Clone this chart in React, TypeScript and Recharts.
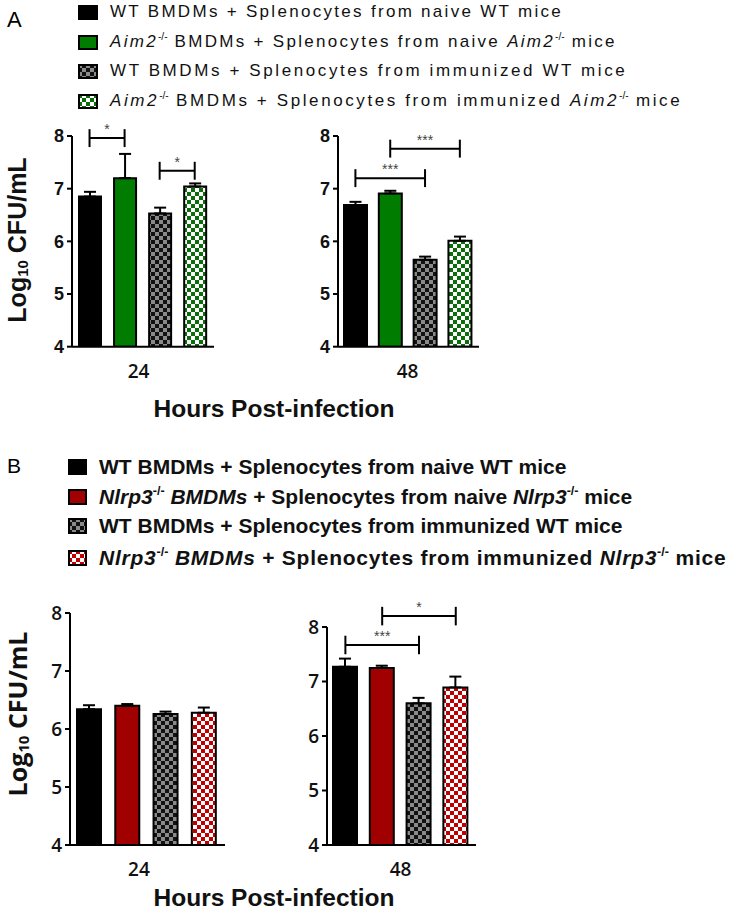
import React from 'react';
import { BarChart, Bar, XAxis, YAxis, Cell, ErrorBar, ReferenceLine, ReferenceDot } from 'recharts';

// bar slots inside every panel, left to right
const positions = [1, 2, 3, 4];
const yTicks = [4, 5, 6, 7, 8];
const hourLabels = ['24', '48'];

const fillsA = ['#000000', '#007d00', 'url(#chkGray)', 'url(#chkGreen)'];
const fillsB = ['#000000', '#a00000', 'url(#chkGray)', 'url(#chkRed)'];

// Panel A (Aim2)
const a24 = [6.85, 7.2, 6.53, 7.04];
const a24Err = [0.09, 0.46, 0.11, 0.06];
const a48 = [6.69, 6.91, 5.65, 6.01];
const a48Err = [0.06, 0.05, 0.06, 0.08];

// Panel B (Nlrp3)
const b24 = [6.34, 6.4, 6.26, 6.28];
const b24Err = [0.07, 0.03, 0.04, 0.09];
const b48 = [7.27, 7.25, 6.6, 6.89];
const b48Err = [0.15, 0.04, 0.1, 0.2];

// significance brackets: from bar, to bar, height, stars
const a24Sig = [
    { from: 1, to: 2, y: 7.96, stars: '*' },
    { from: 3, to: 4, y: 7.34, stars: '*' },
];
const a48Sig = [
    { from: 1, to: 3, y: 7.2, stars: '***' },
    { from: 2, to: 4, y: 7.76, stars: '***' },
];
const b24Sig: { from: number; to: number; y: number; stars: string }[] = [];
const b48Sig = [
    { from: 1, to: 3, y: 7.67, stars: '***' },
    { from: 2, to: 4, y: 8.2, stars: '*' },
];

const makeRows = (vals: number[], errs: number[]) =>
    positions.map((p, i) => ({ pos: p, value: vals[i], err: [0, errs[i]] }));

const Patterns = () => (
    <svg width={0} height={0} style={{ position: 'absolute' }}>
        <defs>
            <pattern id="chkGray" width={8} height={8} patternUnits="userSpaceOnUse">
                <rect width={8} height={8} fill="#111" />
                <rect width={4} height={4} fill="#8a8a8a" />
                <rect x={4} y={4} width={4} height={4} fill="#8a8a8a" />
            </pattern>
            <pattern id="chkGreen" width={8} height={8} patternUnits="userSpaceOnUse">
                <rect width={8} height={8} fill="#ffffff" />
                <rect width={4} height={4} fill="#0a6e0a" />
                <rect x={4} y={4} width={4} height={4} fill="#0a6e0a" />
            </pattern>
            <pattern id="chkRed" width={8} height={8} patternUnits="userSpaceOnUse">
                <rect width={8} height={8} fill="#ffffff" />
                <rect width={4} height={4} fill="#c00000" />
                <rect x={4} y={4} width={4} height={4} fill="#c00000" />
            </pattern>
        </defs>
    </svg>
);

type PanelProps = {
    left: number;
    top: number;
    plotW: number;
    plotH: number;
    vals: number[];
    errs: number[];
    fills: string[];
    hour: string;
    tickPos: number;
    sig: { from: number; to: number; y: number; stars: string }[];
    barSize: number;
    tickFont: React.CSSProperties;
};

const Panel = ({ left, top, plotW, plotH, vals, errs, fills, hour, tickPos, sig, barSize, tickFont }: PanelProps) => {
    const yAxisW = 45;
    const mTop = 40;
    const mRight = 10;
    const xAxisH = 40;
    const data = makeRows(vals, errs);
    const cap = 0.17;
    return (
        <div style={{ position: 'absolute', left: left - yAxisW, top: top - mTop }}>
            <BarChart
                width={yAxisW + plotW + mRight}
                height={mTop + plotH + xAxisH}
                data={data}
                margin={{ top: mTop, right: mRight, bottom: 0, left: 0 }}
            >
                <XAxis
                    type="number"
                    dataKey="pos"
                    domain={[0.5, 4.55]}
                    ticks={[tickPos]}
                    tickFormatter={() => hour}
                    allowDataOverflow
                    height={xAxisH}
                    tickLine={false}
                    tickSize={0}
                    tickMargin={18}
                    axisLine={{ stroke: '#000', strokeWidth: 2 }}
                    tick={{ fill: '#111', fontFamily: '"Open Sans", sans-serif', fontWeight: 600, fontSize: 19 }}
                />
                <YAxis
                    type="number"
                    domain={[4, 8]}
                    ticks={yTicks}
                    width={yAxisW}
                    allowDataOverflow
                    tickSize={5}
                    tickMargin={3}
                    axisLine={{ stroke: '#000', strokeWidth: 2 }}
                    tickLine={{ stroke: '#000', strokeWidth: 2 }}
                    tick={{ fill: '#111', ...tickFont } as any}
                />
                <Bar dataKey="value" barSize={barSize} stroke="#000" strokeWidth={2} isAnimationActive={false}>
                    {data.map((d, i) => (
                        <Cell key={d.pos} fill={fills[i]} />
                    ))}
                    <ErrorBar dataKey="err" width={6} stroke="#000" strokeWidth={2} direction="y" isAnimationActive={false} />
                </Bar>
                {sig.map((s, i) => (
                    <ReferenceLine
                        key={'h' + i}
                        segment={[{ x: s.from, y: s.y }, { x: s.to, y: s.y }]}
                        stroke="#000"
                        strokeWidth={2}
                        ifOverflow="visible"
                    />
                ))}
                {sig.map((s, i) => (
                    <ReferenceLine
                        key={'l' + i}
                        segment={[{ x: s.from, y: s.y - cap }, { x: s.from, y: s.y + cap }]}
                        stroke="#000"
                        strokeWidth={2}
                        ifOverflow="visible"
                    />
                ))}
                {sig.map((s, i) => (
                    <ReferenceLine
                        key={'r' + i}
                        segment={[{ x: s.to, y: s.y - cap }, { x: s.to, y: s.y + cap }]}
                        stroke="#000"
                        strokeWidth={2}
                        ifOverflow="visible"
                    />
                ))}
                {sig.map((s, i) => (
                    <ReferenceDot
                        key={'s' + i}
                        x={(s.from + s.to) / 2}
                        y={s.y}
                        r={1}
                        fill="none"
                        stroke="none"
                        ifOverflow="visible"
                        label={{ value: s.stars, position: 'top', offset: 3, fill: '#444', fontSize: 14, fontFamily: 'Arial, sans-serif' }}
                    />
                ))}
            </BarChart>
        </div>
    );
};

const Swatch = ({ fill, w, h }: { fill: string; w: number; h: number }) => (
    <svg width={w} height={h} style={{ display: 'block', flex: 'none' }}>
        <rect x={1} y={1} width={w - 2} height={h - 2} fill={fill} stroke="#000" strokeWidth={2} />
    </svg>
);

const legendAFont: React.CSSProperties = {
    fontFamily: '"Liberation Sans", Arial, sans-serif',
    fontSize: 17,
    letterSpacing: 2.3,
    color: '#111',
};
const legendBFont: React.CSSProperties = {
    fontFamily: '"Liberation Sans", Arial, sans-serif',
    fontSize: 21,
    fontWeight: 700,
    color: '#111',
};

const Row = ({ top, left, fill, font, sw, children }: any) => (
    <div style={{ position: 'absolute', top: top - 14, left, height: 28, display: 'flex', alignItems: 'center', whiteSpace: 'nowrap', ...font }}>
        <Swatch fill={fill} w={sw[0]} h={sw[1]} />
        <span style={{ marginLeft: sw[2] }}>{children}</span>
    </div>
);

const Sup = ({ children }: any) => <sup style={{ fontSize: '0.6em', letterSpacing: 0, verticalAlign: '0.7em', lineHeight: 0 }}>{children}</sup>;

const YLabel = ({ cx, cy, font }: { cx: number; cy: number; font: React.CSSProperties }) => (
    <div
        style={{
            position: 'absolute',
            left: cx - 150,
            top: cy - 15,
            width: 300,
            height: 30,
            lineHeight: '30px',
            textAlign: 'center',
            transform: 'rotate(-90deg)',
            whiteSpace: 'nowrap',
            color: '#111',
            ...font,
        }}
    >
        Log<sub style={{ fontSize: '0.6em', verticalAlign: '-0.1em' }}>10</sub> CFU/mL
    </div>
);

const XTitle = ({ cy }: { cy: number }) => (
    <div
        style={{
            position: 'absolute',
            left: 124,
            width: 300,
            top: cy - 11,
            height: 22,
            lineHeight: '22px',
            textAlign: 'center',
            fontFamily: '"Liberation Sans", Arial, sans-serif',
            fontWeight: 700,
            fontSize: 24.5,
            color: '#111',
        }}
    >
        Hours Post-infection
    </div>
);

const App = () => {
    const tickA = { fontFamily: '"Liberation Sans", Arial, sans-serif', fontWeight: 700, fontSize: 18 };
    const tickB = { fontFamily: '"Open Sans", sans-serif', fontWeight: 600, fontSize: 19 };
    return (
        <div style={{ position: 'absolute', left: 0, top: 0, width: 733, height: 910, background: '#fff' }}>
            <Patterns />

            {/* Panel A */}
            <div style={{ position: 'absolute', left: 7, top: 7, fontFamily: '"Liberation Sans", Arial, sans-serif', fontSize: 22 }}>A</div>
            <Row top={12} left={78} fill={fillsA[0]} font={legendAFont} sw={[20, 15, 12]}>
                WT BMDMs + Splenocytes from naive WT mice
            </Row>
            <Row top={42} left={78} fill={fillsA[1]} font={legendAFont} sw={[20, 15, 12]}>
                <i>Aim2</i><Sup>-/-</Sup> BMDMs + Splenocytes from naive <i>Aim2</i><Sup>-/-</Sup> mice
            </Row>
            <Row top={71} left={78} fill={fillsA[2]} font={{ ...legendAFont, letterSpacing: 2.6 }} sw={[20, 15, 12]}>
                WT BMDMs + Splenocytes from immunized WT mice
            </Row>
            <Row top={101} left={78} fill={fillsA[3]} font={{ ...legendAFont, letterSpacing: 2.6 }} sw={[20, 15, 12]}>
                <i>Aim2</i><Sup>-/-</Sup> BMDMs + Splenocytes from immunized <i>Aim2</i><Sup>-/-</Sup> mice
            </Row>

            <Panel left={72} top={136} plotW={142} plotH={210.7} vals={a24} errs={a24Err} fills={fillsA} hour={hourLabels[0]} tickPos={2.4} sig={a24Sig} barSize={22} tickFont={tickA} />
            <Panel left={338} top={136} plotW={141} plotH={210.7} vals={a48} errs={a48Err} fills={fillsA} hour={hourLabels[1]} tickPos={2.5} sig={a48Sig} barSize={23} tickFont={tickA} />
            <YLabel cx={17} cy={240} font={{ fontFamily: '"Liberation Sans", Arial, sans-serif', fontWeight: 700, fontSize: 25 }} />
            <XTitle cy={409} />

            {/* Panel B */}
            <div style={{ position: 'absolute', left: 7, top: 454, fontFamily: '"Liberation Sans", Arial, sans-serif', fontSize: 21 }}>B</div>
            <Row top={467} left={68} fill={fillsB[0]} font={legendBFont} sw={[19, 16, 12]}>
                WT BMDMs + Splenocytes from naive WT mice
            </Row>
            <Row top={497} left={68} fill={fillsB[1]} font={legendBFont} sw={[19, 16, 12]}>
                <i>Nlrp3</i><Sup>-/-</Sup> <i>BMDMs</i> + Splenocytes from naive <i>Nlrp3</i><Sup>-/-</Sup> mice
            </Row>
            <Row top={526} left={68} fill={fillsB[2]} font={legendBFont} sw={[19, 16, 12]}>
                WT BMDMs + Splenocytes from immunized WT mice
            </Row>
            <Row top={558} left={68} fill={fillsB[3]} font={{ ...legendBFont, letterSpacing: 0.75 }} sw={[19, 16, 12]}>
                <i>Nlrp3</i><Sup>-/-</Sup> <i>BMDMs</i> + Splenocytes from immunized <i>Nlrp3</i><Sup>-/-</Sup> mice
            </Row>

            <Panel left={70} top={613} plotW={155} plotH={232} vals={b24} errs={b24Err} fills={fillsB} hour={hourLabels[0]} tickPos={2.3} sig={b24Sig} barSize={24} tickFont={tickB} />
            <Panel left={327} top={627} plotW={149} plotH={218} vals={b48} errs={b48Err} fills={fillsB} hour={hourLabels[1]} tickPos={2.5} sig={b48Sig} barSize={24} tickFont={tickB} />
            <YLabel cx={17} cy={714} font={{ fontFamily: '"Open Sans", sans-serif', fontWeight: 700, fontSize: 25 }} />
            <XTitle cy={898} />
        </div>
    );
};

export default App;
